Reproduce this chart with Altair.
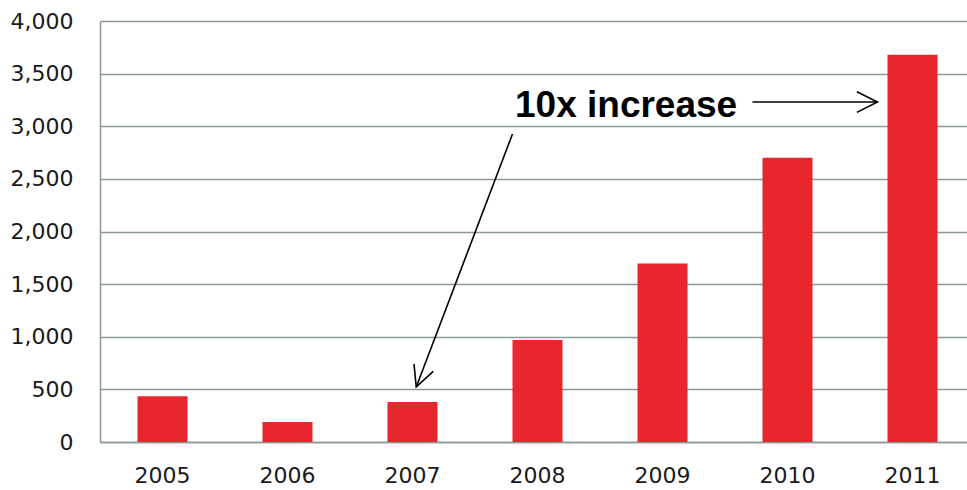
import altair as alt
import pandas as pd

# ---- data ----
years = ["2005", "2006", "2007", "2008", "2009", "2010", "2011"]
values = [435, 190, 380, 970, 1695, 2700, 3680]
y_ticks = [0, 500, 1000, 1500, 2000, 2500, 3000, 3500, 4000]

# annotation (in band-step units along x, data units along y)
note_text = ["10x increase"]
note_x = [3.32]
note_y = [3088]

arrow_x = [5.22, 3.30]
arrow_y = [3230, 2926]
arrow_x2 = [6.22, 2.53]
arrow_y2 = [3230, 523]
arrow_angle = [0, 111]

GRID = "#8d9999"
RED = "#e8262d"
XRANGE = [0, 875]

bars_df = pd.DataFrame({"year": years, "value": values})
note_df = pd.DataFrame({"text": note_text, "x": note_x, "y": note_y})
arrow_df = pd.DataFrame({"x": arrow_x, "y": arrow_y, "x2": arrow_x2,
                         "y2": arrow_y2, "angle": arrow_angle})

yscale = alt.Scale(domain=[0, 4000], nice=False)
xq = alt.Scale(domain=[0, 7], range=XRANGE, nice=False, zero=False)

bars = alt.Chart(bars_df).mark_bar(color=RED).encode(
    x=alt.X("year:N", sort=years,
            scale=alt.Scale(range=XRANGE, paddingInner=0.6, paddingOuter=0.3),
            axis=alt.Axis(title=None, labelAngle=0, ticks=False,
                          labelFont="DejaVu Sans", labelFontSize=22,
                          labelColor="#1a1a1a", labelPadding=23,
                          domainColor=GRID, domainWidth=1.5)),
    y=alt.Y("value:Q", scale=yscale,
            axis=alt.Axis(title=None, values=y_ticks, format=",.0f", ticks=False,
                          labelFont="DejaVu Sans", labelFontSize=22,
                          labelColor="#1a1a1a", labelPadding=27,
                          gridColor=GRID, gridWidth=1.5, gridOpacity=1,
                          domainColor=GRID, domainWidth=1.5)),
)

rules = alt.Chart(arrow_df).mark_rule(color="black", strokeWidth=1.6).encode(
    x=alt.X("x:Q", scale=xq, axis=None),
    x2="x2:Q",
    y=alt.Y("y:Q", scale=yscale, axis=None),
    y2="y2:Q",
)

heads = alt.Chart(arrow_df).mark_point(
    shape="M-1,-0.5L0,0L-1,0.5", filled=False, size=1700,
    color="black", strokeWidth=1.6, opacity=1,
).encode(
    x=alt.X("x2:Q", scale=xq, axis=None),
    y=alt.Y("y2:Q", scale=yscale, axis=None),
    angle=alt.Angle("angle:Q", scale=None),
)

note = alt.Chart(note_df).mark_text(
    font="Liberation Sans", fontWeight="bold", fontSize=37,
    align="left", baseline="alphabetic", color="black",
).encode(
    x=alt.X("x:Q", scale=xq, axis=None),
    y=alt.Y("y:Q", scale=yscale, axis=None),
    text="text:N",
)

chart = alt.layer(bars, rules, heads, note).resolve_scale(
    x="independent", y="independent"
).properties(
    width=867, height=421,
    autosize=alt.AutoSizeParams(type="none"),
    padding={"left": 100, "top": 21, "right": 0, "bottom": 48},
    background="white",
).configure_view(stroke=None)

chart.save("out.html", embed_options={"renderer": "svg", "actions": False})
